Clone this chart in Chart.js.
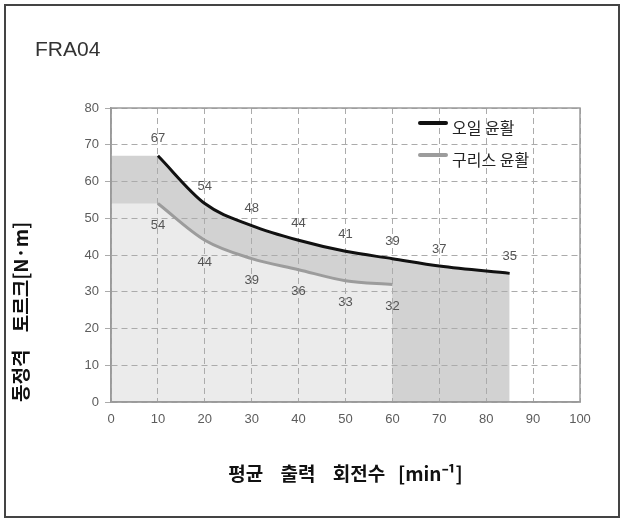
<!DOCTYPE html>
<html>
<head>
<meta charset="utf-8">
<script src="https://cdn.jsdelivr.net/npm/chart.js@4/dist/chart.umd.min.js"></script>
<style>
  html, body { margin: 0; padding: 0; background: #ffffff; }
  #wrap { width: 624px; height: 519px; position: relative; }
</style>
</head>
<body>
<div id="wrap"><canvas id="torqueChart" width="624" height="519"></canvas></div>
<script>
// Rated torque vs. average output speed, model FRA04
const chartTitle = 'FRA04';
const seriesNames = ['오일 윤활', '구리스 윤활'];

// average output speed [min^-1] and rated torque [N·m]
const oilSpeed = [10, 20, 30, 40, 50, 60, 70, 85];
const oilTorque = [67, 54, 48, 44, 41, 39, 37, 35];
const greaseSpeed = [10, 20, 30, 40, 50, 60];
const greaseTorque = [54, 44, 39, 36, 33, 32];

// axis ranges
const speedRange = [0, 100];
const speedStep = 10;
const torqueRange = [0, 80];
const torqueStep = 10;

const xTitle = '평균    출력    회전수   [min⁻¹]';
const yTitle = '동정격    토르크[N·m]';

const toPoints = (xs, ys) => xs.map((x, i) => ({ x: x, y: ys[i] }));
// flat band from zero speed up to the first rated point
const bandPoints = (xs, ys) => [{ x: speedRange[0], y: ys[0] }, { x: xs[0], y: ys[0] }];

const OIL_FILL = '#d2d2d2';
const GREASE_FILL = '#ebebeb';
const TICK_FONT = { family: '"Liberation Sans", Arial, sans-serif', size: 13 };

// numbers written next to each rated point
const pointLabels = {
  id: 'pointLabels',
  afterDatasetsDraw(chart) {
    const ctx = chart.ctx;
    ctx.save();
    ctx.font = '13px "Liberation Sans", Arial, sans-serif';
    ctx.fillStyle = '#555555';
    ctx.textAlign = 'center';
    ctx.textBaseline = 'middle';
    chart.data.datasets.forEach((ds, di) => {
      if (ds.labelOffset === undefined) return;
      const meta = chart.getDatasetMeta(di);
      meta.data.forEach((pt, i) => {
        ctx.fillText(String(ds.data[i].y), pt.x, pt.y + ds.labelOffset);
      });
    });
    ctx.restore();
  }
};

// frame, heading, plot border and the legend inside the plot
const decorations = {
  id: 'decorations',
  beforeDatasetsDraw(chart) {
    const { ctx, chartArea: a } = chart;
    ctx.save();
    ctx.strokeStyle = '#9a9a9a';
    ctx.lineWidth = 1.5;
    ctx.strokeRect(a.left, a.top, a.right - a.left, a.bottom - a.top);
    ctx.restore();
  },
  afterDraw(chart) {
    const { ctx, chartArea: a } = chart;
    ctx.save();
    ctx.strokeStyle = '#444444';
    ctx.lineWidth = 2;
    ctx.strokeRect(5, 5, 614, 512);

    ctx.fillStyle = '#333333';
    ctx.font = '21px "Liberation Sans", Arial, sans-serif';
    ctx.textAlign = 'left';
    ctx.textBaseline = 'alphabetic';
    ctx.fillText(chartTitle, 35, 56);

    const entries = chart.data.datasets
      .filter(ds => ds.legendRank !== undefined)
      .sort((p, q) => p.legendRank - q.legendRank);
    entries.forEach((ds, i) => {
      const y = a.top + 15 + i * 32;
      const x0 = a.right - 160;
      ctx.strokeStyle = ds.borderColor;
      ctx.lineWidth = 4;
      ctx.lineCap = 'round';
      ctx.beginPath();
      ctx.moveTo(x0, y);
      ctx.lineTo(x0 + 26, y);
      ctx.stroke();
      ctx.fillStyle = '#222222';
      ctx.font = '16px "Noto Sans CJK KR", sans-serif';
      ctx.textBaseline = 'middle';
      ctx.fillText(ds.label, x0 + 32, y + 5);
    });
    ctx.restore();
  }
};

new Chart(document.getElementById('torqueChart'), {
  type: 'line',
  data: {
    datasets: [
      {
        label: seriesNames[1],
        data: toPoints(greaseSpeed, greaseTorque),
        borderColor: '#9c9c9c',
        borderWidth: 3,
        backgroundColor: GREASE_FILL,
        fill: 'origin',
        cubicInterpolationMode: 'monotone',
        pointRadius: 0,
        legendRank: 1,
        labelOffset: 22
      },
      {
        label: 'grease band',
        data: bandPoints(greaseSpeed, greaseTorque),
        borderWidth: 0,
        borderColor: 'rgba(0,0,0,0)',
        backgroundColor: GREASE_FILL,
        fill: 'origin',
        tension: 0,
        pointRadius: 0
      },
      {
        label: seriesNames[0],
        data: toPoints(oilSpeed, oilTorque),
        borderColor: '#111111',
        borderWidth: 3,
        backgroundColor: OIL_FILL,
        fill: 'origin',
        cubicInterpolationMode: 'monotone',
        pointRadius: 0,
        legendRank: 0,
        labelOffset: -17
      },
      {
        label: 'oil band',
        data: bandPoints(oilSpeed, oilTorque),
        borderWidth: 0,
        borderColor: 'rgba(0,0,0,0)',
        backgroundColor: OIL_FILL,
        fill: 'origin',
        tension: 0,
        pointRadius: 0
      }
    ]
  },
  options: {
    responsive: false,
    animation: false,
    devicePixelRatio: 1,
    layout: { padding: { top: 108, right: 44, bottom: 0, left: 0 } },
    plugins: {
      legend: { display: false },
      tooltip: { enabled: false },
      filler: { drawTime: 'beforeDraw' }
    },
    scales: {
      x: {
        type: 'linear',
        min: speedRange[0],
        max: speedRange[1],
        afterFit(scale) { scale.height = 117; },
        ticks: { stepSize: speedStep, padding: 10, color: '#5c5c5c', font: TICK_FONT },
        grid: { color: '#ababab', lineWidth: 1, drawTicks: false },
        border: { display: true, color: '#9a9a9a', width: 1.5, dash: [6, 4] },
        title: {
          display: true,
          text: xTitle,
          color: '#111111',
          font: { family: '"Noto Sans CJK KR", sans-serif', size: 19, weight: 'bold' },
          padding: { top: 0, bottom: 34 }
        }
      },
      y: {
        type: 'linear',
        min: torqueRange[0],
        max: torqueRange[1],
        afterFit(scale) { scale.width = 111; },
        ticks: { stepSize: torqueStep, padding: 6, color: '#5c5c5c', font: TICK_FONT },
        grid: { color: '#ababab', lineWidth: 1, drawTicks: true, tickLength: 6 },
        border: { display: true, color: '#9a9a9a', width: 1.5, dash: [6, 4] },
        title: {
          display: true,
          text: yTitle,
          align: 'start',
          color: '#111111',
          font: { family: '"Noto Sans CJK KR", sans-serif', size: 19, weight: 'bold' },
          padding: { top: 9, bottom: 0 }
        }
      }
    }
  },
  plugins: [pointLabels, decorations]
});
</script>
</body>
</html>
